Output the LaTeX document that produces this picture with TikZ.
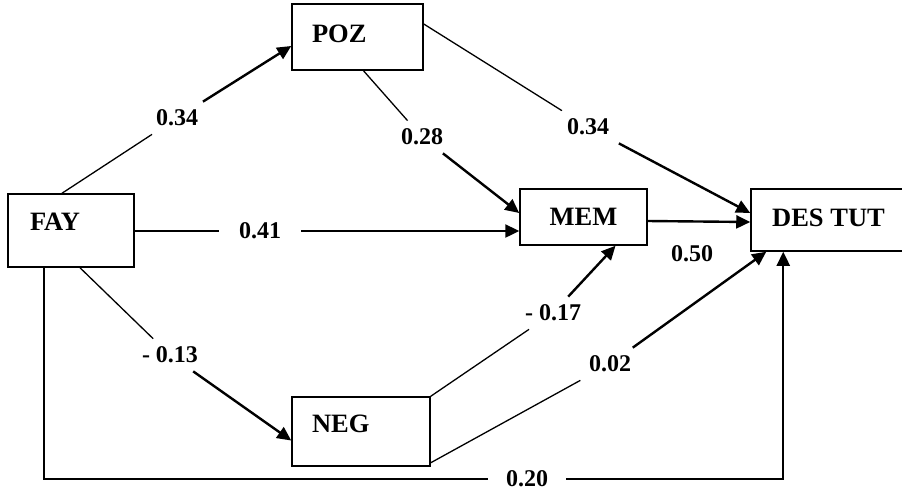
\documentclass[tikz,border=0pt]{standalone}
\usepackage{fontspec}
\setmainfont{Liberation Serif}
\usetikzlibrary{arrows.meta}

\begin{document}
\begin{tikzpicture}[x=1pt, y=-1pt,
  every node/.style={font=\fontsize{24}{28}\selectfont\bfseries},
  var/.style={draw, line width=1.5pt, inner ysep=0pt, font=\fontsize{26.5}{30}\selectfont\bfseries},
  lbox/.style={var, inner xsep=20pt, align=left},
  wt/.style={inner xsep=16pt, inner ysep=8pt},
  lead/.style={line width=1.3pt},
  hit/.style={line width=2.4pt, -{Triangle[length=14pt,width=13pt]}}]
\useasboundingbox (0,0) rectangle (902,491);

% variables
\node[lbox, text width=91pt, minimum height=66pt, text depth=7pt] (POZ) at (357.5,37) {POZ};
\node[lbox, text width=82pt, inner xsep=22pt, minimum height=73pt, text depth=18pt] (FAY) at (71,230.5) {FAY};
\node[lbox, text width=98pt, minimum height=69pt, text depth=15pt] (NEG) at (361,431.5) {NEG};
\node[var, minimum width=127pt, minimum height=56pt] (MEM) at (583.5,217) {MEM};
\node[var, minimum width=155pt, minimum height=62pt, text depth=5pt] (DES) at (828.5,220) {DES TUT};

% weights
\node[wt] (w1) at (177,118) {0.34};
\node[wt] (w2) at (422,137) {0.28};
\node[wt] (w3) at (588,127) {0.34};
\node[wt, inner xsep=20pt] (w4) at (260,231) {0.41};
\node[wt] (w5) at (692,254) {0.50};
\node[wt] (w6) at (170,355) {- 0.13};
\node[wt] (w7) at (553,313) {- 0.17};
\node[wt] (w8) at (610,364) {0.02};
\node[wt, inner xsep=18pt] (w9) at (527,479) {0.20};

% paths
\draw[lead] ([xshift=-9pt]FAY.north) -- (w1);
\draw[hit] (w1) -- ([yshift=-9pt]POZ.west);
\draw[lead] ([xshift=6pt]POZ.south) -- (w2);
\draw[hit] (w2) -- ([yshift=4pt]MEM.west);
\draw[lead] ([yshift=13pt]POZ.east) -- (w3);
\draw[hit] (w3) -- ([yshift=7pt]DES.west);
\draw[lead] (w4 -| FAY.east) -- (w4);
\draw[hit] (w4) -- (w4 -| MEM.west);
\draw[hit] ([yshift=-4pt]MEM.east) -- ([yshift=-2pt]DES.west);
\draw[lead] ([xshift=9pt]FAY.south) -- (w6);
\draw[hit] (w6) -- ([yshift=-9pt]NEG.west);
\draw[lead] (NEG.north east) -- (w7);
\draw[hit] (w7) -- ([xshift=32pt]MEM.south);
\draw[lead] ([yshift=4pt]NEG.south east) -- (w8);
\draw[hit] (w8) -- ([xshift=16pt]DES.south west);
\draw[lead] ([xshift=-27pt]FAY.south) |- (w9);
\draw[hit] (w9) -| ([xshift=33pt]DES.south west);
\end{tikzpicture}
\end{document}
